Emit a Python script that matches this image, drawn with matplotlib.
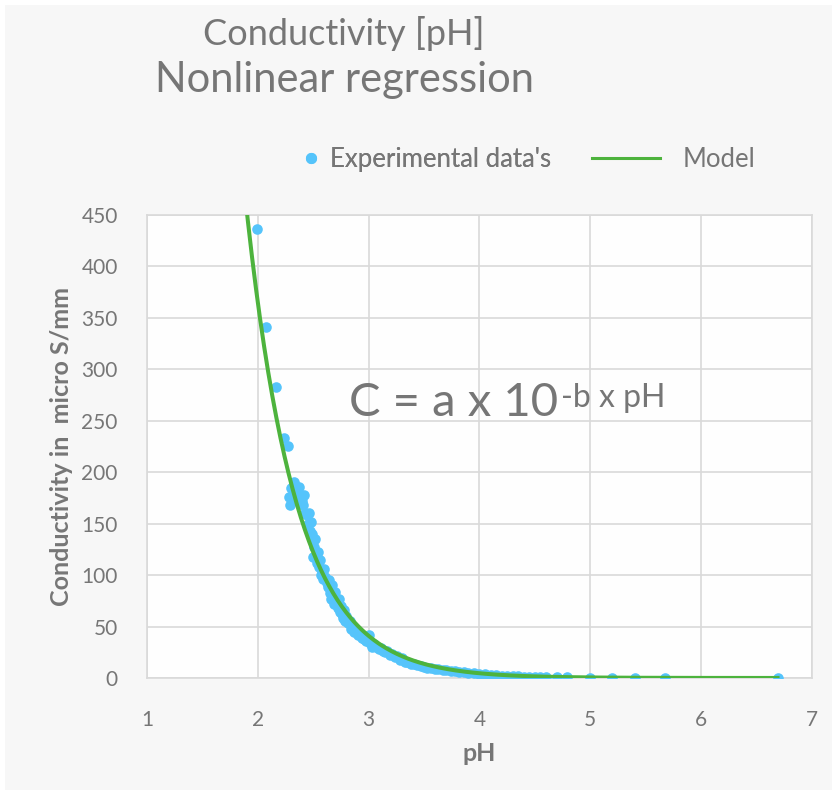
import numpy as np
import matplotlib.pyplot as plt
from matplotlib.patches import Rectangle
from matplotlib.lines import Line2D

plt.rcParams['font.family'] = ['Lato', 'DejaVu Sans']

# experimental points
ph = [1.99, 2.07, 2.16, 2.24, 2.27,
      2.28, 2.29, 2.30, 2.31, 2.33, 2.35, 2.36, 2.37, 2.38, 2.40,
      2.41, 2.42, 2.43, 2.44, 2.45, 2.46, 2.47, 2.48, 2.49, 2.50,
      2.51, 2.52, 2.50, 2.53, 2.54, 2.55, 2.56, 2.57, 2.58, 2.59,
      2.60, 2.61, 2.62, 2.63, 2.64, 2.65, 2.66, 2.67, 2.68, 2.69,
      2.70, 2.71, 2.72, 2.73, 2.74, 2.75, 2.76, 2.77, 2.78, 2.79,
      2.80, 2.81, 2.83, 2.84, 2.86, 2.87, 2.89, 2.90, 2.92, 2.94,
      2.96, 2.98, 3.00, 3.01, 3.03, 3.05, 3.07, 3.09, 3.11, 3.13,
      3.15, 3.17, 3.19, 3.21, 3.24, 3.26, 3.28, 3.30, 3.33, 3.35,
      3.38, 3.41, 3.44, 3.47, 3.50, 3.53, 3.56, 3.60, 3.63, 3.67,
      3.70, 3.74, 3.78, 3.82, 3.86, 3.90, 3.95, 4.00, 4.05, 4.10,
      4.15, 4.20, 4.25, 4.30, 4.35, 4.40, 4.45, 4.50, 4.55, 4.60,
      4.70, 4.79, 5.00, 5.20, 5.40, 5.67, 6.69]
cond = [436, 341, 283, 233, 225,
        176, 168, 185, 172, 190, 181, 176, 186, 178, 172,
        168, 178, 160, 158, 150, 160, 143, 152, 140, 133,
        127, 135, 118, 112, 122, 108, 115, 100, 104, 96,
        106, 98, 92, 88, 95, 83, 77, 90, 81, 72,
        84, 75, 68, 77, 64, 70, 62, 58, 66, 55,
        60, 53, 55, 48, 50, 45, 46, 42, 43, 39,
        38, 36, 42, 34, 30, 33, 30, 28, 29, 26,
        25, 26, 22, 23, 20, 21, 17, 19, 16, 16,
        14, 14, 13, 12, 11, 10, 10, 9, 8.5, 8,
        7.5, 7, 6.5, 6, 5.5, 5, 4.5, 4, 3.5, 3,
        2.8, 2.4, 2.1, 1.9, 1.6, 1.4, 1.2, 1.1, 1.0, 0.9,
        0.7, 0.6, 0.4, 0.3, 0.2, 0.1, 0.05]

# model C = a * 10^(-b*pH)
a = 29000.0
b = 0.95
ph_model = np.linspace(1.8, 6.69, 400)
c_model = a * 10 ** (-b * ph_model)

grey = '#767676'
blue = '#55c4fb'
green = '#4db33d'

fig = plt.figure(figsize=(8.37, 7.95), dpi=100)
fig.patch.set_facecolor('white')
fig.patches.append(Rectangle((0.006, 0.006), 0.988, 0.988, transform=fig.transFigure,
                             facecolor='#f7f7f7', edgecolor='none', zorder=-10))

ax = fig.add_axes([0.1756, 0.1472, 0.7944, 0.5824])
ax.set_facecolor('#fefefe')

ax.scatter(ph, cond, s=58, color=blue, zorder=3, linewidths=0)
ax.plot(ph_model, c_model, color=green, lw=2.9, zorder=4)

ax.set_xlim(1, 7)
ax.set_ylim(0, 450)
ax.set_xticks(range(1, 8))
ax.set_yticks(range(0, 451, 50))
ax.grid(True, color='#d9d9d9', lw=1.2)
ax.set_axisbelow(True)
for sp in ax.spines.values():
    sp.set_color('#d9d9d9')
    sp.set_linewidth(1.2)
ax.tick_params(length=0, colors=grey, labelsize=15)
ax.tick_params(axis='x', pad=23)
ax.tick_params(axis='y', pad=21)

ax.set_xlabel('pH', color=grey, fontsize=18, fontweight='bold', labelpad=9)
ax.set_ylabel('Conductivity in  micro S/mm', color=grey, fontsize=18,
              fontweight='bold', labelpad=6)

# equation with superscript
eq = ax.text(0.3045, 0.565, 'C = a x 10', transform=ax.transAxes,
             fontsize=34, color=grey, ha='left', va='baseline')
fig.canvas.draw()
bb = eq.get_window_extent()
ax.text(bb.x1 + 2, bb.y1 - 25, '-b x pH', transform=None,
        fontsize=23, color=grey, ha='left', va='baseline')

fig.text(0.411, 0.958, 'Conductivity [pH]', ha='center', va='center',
         fontsize=26, color=grey)
fig.text(0.411, 0.899, 'Nonlinear regression', ha='center', va='center',
         fontsize=30, color=grey)

# legend: two entries laid out like the original
h1 = Line2D([], [], ls='none', marker='o', ms=7, color=blue)
h2 = Line2D([], [], color=green, lw=2.2)
leg1 = fig.legend([h1], ["Experimental data's"], loc='center left',
                  bbox_to_anchor=(0.363, 0.799), frameon=False, fontsize=18.5,
                  labelcolor=grey, handlelength=0.55, handletextpad=0.45,
                  borderpad=0, borderaxespad=0)
leg2 = fig.legend([h2], ['Model'], loc='center left',
                  bbox_to_anchor=(0.707, 0.799), frameon=False, fontsize=18.5,
                  labelcolor=grey, handlelength=2.65, handletextpad=0.9,
                  borderpad=0, borderaxespad=0)
fig.add_artist(leg1)

fig.savefig('out.png', dpi=100, facecolor=fig.get_facecolor())
